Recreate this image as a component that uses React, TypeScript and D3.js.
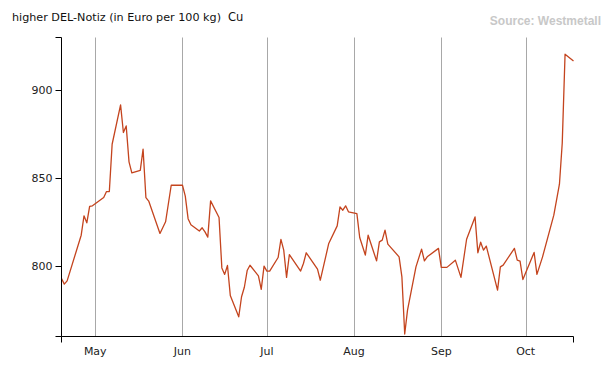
import React from "react";
import * as d3 from "d3";

const dates: string[] = [
  "2021-04-19","2021-04-20","2021-04-21","2021-04-26","2021-04-27","2021-04-28","2021-04-29","2021-04-30",
  "2021-05-04","2021-05-05","2021-05-06","2021-05-07","2021-05-10","2021-05-11","2021-05-12","2021-05-13",
  "2021-05-14","2021-05-17","2021-05-18","2021-05-19","2021-05-20","2021-05-24","2021-05-26","2021-05-28",
  "2021-06-01","2021-06-02","2021-06-03","2021-06-04","2021-06-07","2021-06-08","2021-06-09","2021-06-10",
  "2021-06-11","2021-06-14","2021-06-15","2021-06-16","2021-06-17","2021-06-18","2021-06-21","2021-06-22",
  "2021-06-23","2021-06-24","2021-06-25","2021-06-28","2021-06-29","2021-06-30","2021-07-01","2021-07-02",
  "2021-07-05","2021-07-06","2021-07-07","2021-07-08","2021-07-09","2021-07-13","2021-07-14","2021-07-15",
  "2021-07-19","2021-07-20","2021-07-23","2021-07-26","2021-07-27","2021-07-28","2021-07-29","2021-07-30",
  "2021-08-02","2021-08-03","2021-08-05","2021-08-06","2021-08-09","2021-08-10","2021-08-11","2021-08-12",
  "2021-08-13","2021-08-17","2021-08-18","2021-08-19","2021-08-20","2021-08-23","2021-08-25","2021-08-26",
  "2021-08-27","2021-08-31","2021-09-01","2021-09-03","2021-09-06","2021-09-08","2021-09-10","2021-09-13",
  "2021-09-14","2021-09-15","2021-09-16","2021-09-17","2021-09-21","2021-09-22","2021-09-23","2021-09-27",
  "2021-09-28","2021-09-29","2021-09-30","2021-10-04","2021-10-05","2021-10-07","2021-10-11","2021-10-13",
  "2021-10-14","2021-10-15","2021-10-18"
];

const values: number[] = [
  793, 789.8, 791.6, 817.6, 828.6, 824.6, 834, 834.3,
  839, 842.4, 842.4, 869.3, 891.7, 876, 879.7, 859.3,
  853, 854.5, 866.5, 839, 837, 818.6, 825.2, 846,
  846, 839.8, 827, 823.5, 820, 821.8, 819.5, 816.5,
  837.1, 827.7, 799, 795.3, 800.4, 783.3, 771.2, 782.6,
  788, 797.5, 800.5, 794.5, 786.8, 800, 797.2, 797.2,
  804.9, 815.2, 809.1, 793.6, 806.6, 797.2, 801.5, 807.6,
  798.3, 792, 812.9, 822.9, 833.7, 831.8, 834.3, 830.9,
  829.9, 816.3, 806.3, 817.6, 803, 813.8, 814.8, 820.5,
  812.5, 805.3, 793.9, 761.4, 775, 799.6, 809.7, 803,
  805.3, 810.1, 799.3, 799.3, 803.4, 793.6, 815.3, 828,
  807.6, 813.6, 809.1, 811.4, 786.4, 799.6, 800.6, 810.1,
  803.4, 802.8, 792.4, 807.8, 795.3, 805.3, 829, 846.6,
  870, 920.5, 916.6
];

const monthTicks: string[] = ["2021-05-01","2021-06-01","2021-07-01","2021-08-01","2021-09-01","2021-10-01"];
const monthLabels: string[] = ["May","Jun","Jul","Aug","Sep","Oct"];
const yTicks: number[] = [800, 850, 900];
const xDomain: string[] = ["2021-04-19","2021-10-18"];
const yDomain: number[] = [760, 930];

const title = "higher DEL-Notiz (in Euro per 100 kg)";
const metal = "Cu";
const source = "Source: Westmetall";

export default function App() {
  const W = 615, H = 376;
  const left = 61.5, right = 573.5, top = 37.5, bottom = 336.5;
  const parse = (s: string) => new Date(s + "T00:00:00Z");
  const x = d3.scaleUtc().domain(xDomain.map(parse)).range([left, right]);
  const y = d3.scaleLinear().domain(yDomain).range([bottom, top]);
  const data = dates.map((d, i) => ({ date: parse(d), value: values[i] }));
  const line = d3.line<{ date: Date; value: number }>()
    .x(d => x(d.date))
    .y(d => y(d.value));
  const font = "Tahoma, 'DejaVu Sans', 'Liberation Sans', sans-serif";
  const tick = 6;

  return (
    <svg width={W} height={H} style={{ position: "absolute", left: 0, top: 0, background: "#fff" }}
      fontFamily="'Liberation Sans', Arial, sans-serif">
      <rect x={0} y={0} width={W} height={H} fill="#fff" />
      {monthTicks.map((m, i) => (
        <line key={"g" + i} x1={Math.round(x(parse(m))) + 0.5} x2={Math.round(x(parse(m))) + 0.5}
          y1={top} y2={bottom} stroke="#a8a8a8" strokeWidth={1} />
      ))}
      <path d={line(data) || ""} fill="none" stroke="#c4441e" strokeWidth={1.3} strokeLinejoin="round" />
      {/* y axis */}
      <path d={`M${left - tick},${top}H${left}V${bottom}H${left - tick}`} fill="none" stroke="#000" strokeWidth={1} />
      {yTicks.map((t, i) => (
        <g key={"y" + i}>
          <line x1={left - tick} x2={left} y1={Math.round(y(t)) + 0.5} y2={Math.round(y(t)) + 0.5} stroke="#000" />
          <text x={left - 9} y={y(t)} dy="0.35em" textAnchor="end" fontSize={11} fill="#222" fontFamily={font}>{t}</text>
        </g>
      ))}
      {/* x axis */}
      <path d={`M${left},${bottom + tick}V${bottom}H${right}V${bottom + tick}`} fill="none" stroke="#000" strokeWidth={1} />
      {monthTicks.map((m, i) => (
        <text key={"xl" + i} x={x(parse(m))} y={355} textAnchor="middle" fontSize={11} fill="#222" fontFamily={font}>
          {monthLabels[i]}
        </text>
      ))}
      <text x={12} y={21} fontSize={11} fill="#111" fontFamily={font}
        textLength={209} lengthAdjust="spacingAndGlyphs">{title}</text>
      <text x={228} y={21} fontSize={11.5} fill="#111" fontFamily={font}>{metal}</text>
      <text x={601} y={25} textAnchor="end" fontSize={12} fontWeight="bold" fill="#c8c8c8">{source}</text>
    </svg>
  );
}
